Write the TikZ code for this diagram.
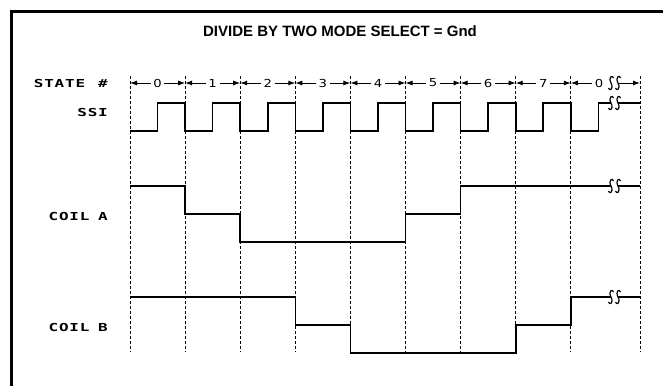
\documentclass[tikz,border=0pt]{standalone}
\usepackage{fontspec}
\usepackage{graphicx}
\setmainfont{Liberation Sans}
\newfontfamily\drafting[LetterSpace=5]{DejaVu Sans Mono}
\newfontfamily\draftnum{DejaVu Sans}
\newcommand{\wide}[1]{\scalebox{1.45}[1]{#1}}
\usetikzlibrary{arrows.meta}

\begin{document}
\begin{tikzpicture}[x=1pt,y=-1pt,
    lbl/.style={anchor=east,inner sep=0pt,font=\drafting\bfseries\fontsize{11}{13}\selectfont},
    digit/.style={inner sep=2.5pt,font=\draftnum\fontsize{11}{13}\selectfont},
    sig/.style={line width=1.6pt},
    guide/.style={line width=0.7pt,dash pattern=on 3pt off 2pt},
    tick/.style={line width=0.9pt,-{Latex[length=7pt,width=5pt]}},
    brk/.pic={\draw[line width=1.2pt] (2.5,-5) .. controls (1.5,-8.5) and (-3,-6) .. (0,0) .. controls (3,6) and (-1.5,8.5) .. (-2.5,5);}]
  \useasboundingbox (0,0) rectangle (663,386);
  \draw[line width=3pt] (11.5,386) -- (11.5,11) -- (663,11);

  \node[font=\bfseries\fontsize{15}{17}\selectfont] (title) at (340,31) {DIVIDE BY TWO MODE SELECT = Gnd};

  \foreach \i in {0,...,8}
    \coordinate (t\i) at ({130+55.1*\i},76);
  \coordinate (t9) at (640,76);
  \foreach \i in {0,...,9}
    \draw[guide] (t\i) -- ++(0,276);

  \node[lbl] (state) at (108,83) {\wide{STATE\hspace{9pt}\#}};
  \node[lbl] (ssi) at (108,112) {\wide{SSI}};
  \node[lbl] (coila) at (108,216) {\wide{COIL\hspace{6pt}A}};
  \node[lbl] (coilb) at (108,327) {\wide{COIL\hspace{6pt}B}};

  \foreach \i [evaluate=\i as \j using int(\i+1)] in {0,...,7}{
    \node[digit] (s\i) at ({157.55+55.1*\i},83) {\scalebox{1.2}[1]{\i}};
    \draw[tick] (s\i.west) -- (t\i |- s\i.west);
    \draw[tick] (s\i.east) -- (t\j |- s\i.east);
  }
  \node[digit] (s8) at (599,83) {\scalebox{1.2}[1]{0}};
  \draw[tick] (s8.west) -- (t8 |- s8.west);
  \coordinate (e8) at (618,83);
  \draw[tick] (e8) -- (t9 |- e8);

  \draw[sig] (130,131) \foreach \i in {0,...,7}{ -- ++(27.55,0) -- ++(0,-28) -- ++(27.55,0) -- ++(0,28)} -- ++(27.55,0) -- ++(0,-28) -- (611,103);
  \draw[sig] (618,103) -- (640,103);

  \draw[sig] (130,186) -- (185.1,186) -- (185.1,214) -- (240.2,214) -- (240.2,242) -- (405.5,242) -- (405.5,214) -- (460.6,214) -- (460.6,186) -- (611,186);
  \draw[sig] (618,186) -- (640,186);

  \draw[sig] (130,297) -- (295.3,297) -- (295.3,325) -- (350.4,325) -- (350.4,353) -- (515.7,353) -- (515.7,325) -- (570.8,325) -- (570.8,297) -- (611,297);
  \draw[sig] (618,297) -- (640,297);

  \foreach \y in {83,103,186,297}{
    \pic at (611,\y) {brk};
    \pic at (618,\y) {brk};
  }
\end{tikzpicture}
\end{document}
